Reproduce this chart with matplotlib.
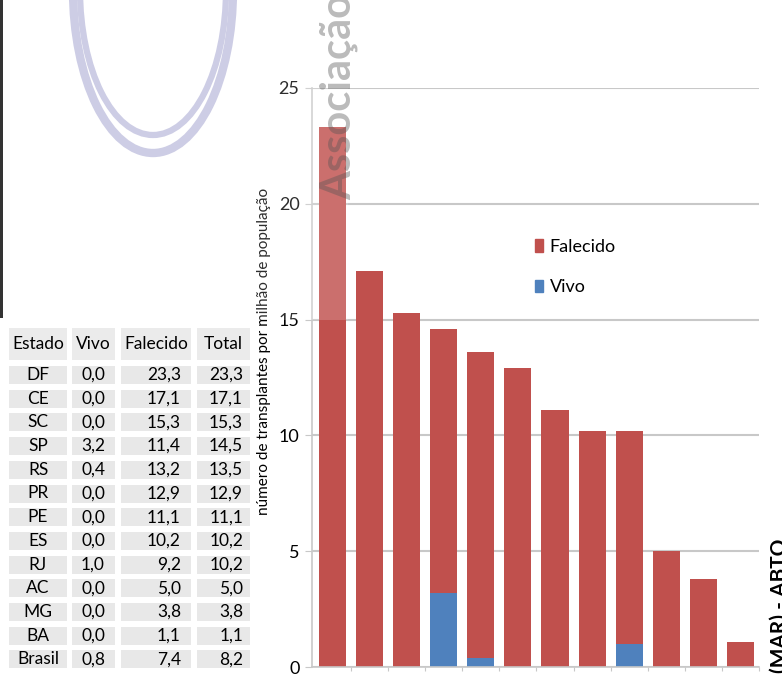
import matplotlib

matplotlib.use("Agg")
import matplotlib.pyplot as plt
from matplotlib.patches import Ellipse, Patch, Rectangle


ESTADOS = ["DF", "CE", "SC", "SP", "RS", "PR", "PE", "ES", "RJ", "AC", "MG", "BA", "Brasil"]
VIVO = [0.0, 0.0, 0.0, 3.2, 0.4, 0.0, 0.0, 0.0, 1.0, 0.0, 0.0, 0.0, 0.8]
FALECIDO = [23.3, 17.1, 15.3, 11.4, 13.2, 12.9, 11.1, 10.2, 9.2, 5.0, 3.8, 1.1, 7.4]
TOTAL = [23.3, 17.1, 15.3, 14.5, 13.5, 12.9, 11.1, 10.2, 10.2, 5.0, 3.8, 1.1, 8.2]
HEADER = ["Estado", "Vivo", "Falecido", "Total"]
Y_TICKS = [0, 5, 10, 15, 20, 25]

RED = "#c0504d"
BLUE = "#4f81bd"
GRID = "#c8c8c8"

W, H = 782, 675


def fx(px):
    return px / W


def fy(py):
    return (H - py) / H


def fmt(v):
    return f"{v:.1f}".replace(".", ",")


plt.rcParams.update({"font.family": ["Lato", "DejaVu Sans"], "font.size": 12})

fig = plt.figure(figsize=(W / 100, H / 100), dpi=100)
fig.patch.set_facecolor("white")

# --- bar chart (Brasil is only in the table) ---
ax = fig.add_axes([fx(312), fy(667), fx(759) - fx(312), fy(88) - fy(667)])
n = len(ESTADOS) - 1
xs = list(range(n))
ax.bar(xs, VIVO[:n], width=0.73, color=BLUE, zorder=2)
ax.bar(xs, FALECIDO[:n], bottom=VIVO[:n], width=0.73, color=RED, zorder=2)
ax.set_xlim(-0.55, n - 0.52)
ax.set_ylim(0, 25)
ax.set_yticks(Y_TICKS)
ax.set_yticklabels([str(t) for t in Y_TICKS], fontsize=13)
ax.set_xticks([x + 0.5 for x in xs])
ax.set_xticklabels([])
ax.tick_params(axis="y", length=5, color=GRID, pad=4)
ax.tick_params(axis="x", length=3, color=GRID)
ax.yaxis.grid(True, color=GRID, linewidth=1.5, zorder=0)
ax.set_axisbelow(True)
for side in ["top", "right"]:
    ax.spines[side].set_visible(False)
for side in ["left", "bottom"]:
    ax.spines[side].set_color(GRID)
    ax.spines[side].set_linewidth(1.2)

fig.text(fx(264), fy(351), "número de transplantes por milhão de população", rotation=90,
         ha="center", va="center", fontsize=11)

handles = [Patch(color=RED, label="Falecido"), Patch(color=BLUE, label="Vivo")]
fig.legend(
    handles=handles,
    loc="center left",
    bbox_to_anchor=(fx(535), fy(267)),
    frameon=False,
    fontsize=13,
    handlelength=0.45,
    handleheight=0.7,
    handletextpad=0.35,
    labelspacing=1.35,
    borderpad=0,
    borderaxespad=0,
)

# --- table on the left ---
cols = [(9, 67, "center"), (72, 115, "center"), (121, 191, "right"), (197, 250, "right")]
text_x = [38, 93, 181, 243]
header_top, header_bot = 328, 360
for (x0, x1, _), label in zip(cols, HEADER):
    fig.patches.append(Rectangle((fx(x0), fy(header_bot)), fx(x1) - fx(x0), fy(header_top) - fy(header_bot),
                                 transform=fig.transFigure, facecolor="#ebebeb", edgecolor="none"))
    fig.text(fx((x0 + x1) / 2), fy((header_top + header_bot) / 2), label, ha="center", va="center", fontsize=12.5)

row_top, pitch, row_h = 366, 23.7, 18
for i, est in enumerate(ESTADOS):
    top = row_top + i * pitch
    vals = [est, fmt(VIVO[i]), fmt(FALECIDO[i]), fmt(TOTAL[i])]
    for (x0, x1, align), v, tx in zip(cols, vals, text_x):
        fig.patches.append(Rectangle((fx(x0), fy(top + row_h)), fx(x1) - fx(x0), fy(top) - fy(top + row_h),
                                     transform=fig.transFigure, facecolor="#e8e8e8", edgecolor="none"))
        fig.text(fx(tx), fy(top + row_h / 2), v, ha=align, va="center", fontsize=12.5)

# --- decorations: left frame line, watermark, whitening overlay, source ---
fig.patches.append(Rectangle((0, fy(318)), fx(3), 1 - fy(318), transform=fig.transFigure,
                             facecolor="#333333", edgecolor="none"))
fig.patches.append(Rectangle((fx(3), fy(320)), fx(348) - fx(3), 1 - fy(320), transform=fig.transFigure,
                             facecolor="white", edgecolor="none", alpha=0.18, zorder=5))
fig.patches.append(Ellipse((fx(153), fy(-10)), fx(160), 2 * 163 / H, transform=fig.transFigure,
                           fill=False, edgecolor="#cdcde5", linewidth=6, zorder=6))
fig.patches.append(Ellipse((fx(153), fy(-10)), fx(146), 2 * 145 / H, transform=fig.transFigure,
                           fill=False, edgecolor="#cdcde5", linewidth=4.5, zorder=6))
fig.text(fx(351), fy(200), "Associação", rotation=90, rotation_mode="anchor", ha="left", va="baseline",
         fontsize=30, fontweight="bold", color="#555555", alpha=0.4, zorder=7)
fig.text(fx(786), fy(673), "(MAR) - ABTO", rotation=90, rotation_mode="anchor", ha="left", va="baseline",
         fontsize=15, fontweight="bold", color="black")

fig.savefig("out.png", dpi=100)
